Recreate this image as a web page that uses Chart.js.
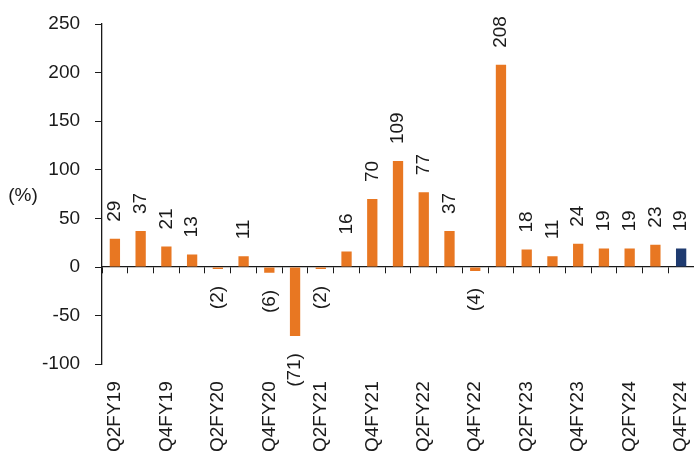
<!DOCTYPE html>
<html>
<head>
<meta charset="utf-8">
<script src="https://cdn.jsdelivr.net/npm/chart.js@4.4.1/dist/chart.umd.min.js"></script>
<style>
  html, body { margin: 0; padding: 0; background: #ffffff; }
  #wrap { width: 694px; height: 466px; position: relative; }
</style>
</head>
<body>
<div id="wrap"><canvas id="c"></canvas></div>
<script>
// Quarterly growth, % YoY
const quarters = [
  'Q2FY19', 'Q3FY19', 'Q4FY19', 'Q1FY20', 'Q2FY20', 'Q3FY20', 'Q4FY20', 'Q1FY21',
  'Q2FY21', 'Q3FY21', 'Q4FY21', 'Q1FY22', 'Q2FY22', 'Q3FY22', 'Q4FY22', 'Q1FY23',
  'Q2FY23', 'Q3FY23', 'Q4FY23', 'Q1FY24', 'Q2FY24', 'Q3FY24', 'Q4FY24'
];
const growth = [29, 37, 21, 13, -2, 11, -6, -71, -2, 16, 70, 109, 77, 37, -4, 208, 18, 11, 24, 19, 19, 23, 19];
const yTicks = [-100, -50, 0, 50, 100, 150, 200, 250];
const unitLabel = '(%)';

const ORANGE = '#E87722';
const NAVY = '#1F3B70';
const FONT = "'Liberation Sans', Arial, sans-serif";
const FONT_SIZE = 19;

// Latest quarter highlighted in navy
const barColors = growth.map((v, i) => i === growth.length - 1 ? NAVY : ORANGE);

// Rotated value labels: plain above positive bars, bracketed below negative bars
const valueLabels = {
  id: 'valueLabels',
  afterDatasetsDraw(chart) {
    const ctx = chart.ctx;
    const meta = chart.getDatasetMeta(0);
    const gap = 17;
    ctx.save();
    ctx.font = FONT_SIZE + 'px ' + FONT;
    ctx.fillStyle = '#1a1a1a';
    ctx.textBaseline = 'middle';
    meta.data.forEach((bar, i) => {
      const v = growth[i];
      const text = v < 0 ? '(' + (-v) + ')' : String(v);
      ctx.save();
      ctx.translate(bar.x, v < 0 ? bar.y + gap : bar.y - gap);
      ctx.rotate(-Math.PI / 2);
      ctx.textAlign = v < 0 ? 'right' : 'left';
      ctx.fillText(text, 0, 0);
      ctx.restore();
    });
    ctx.restore();
  }
};

// Unit caption to the left of the value axis
const unitCaption = {
  id: 'unitCaption',
  afterDraw(chart) {
    const ctx = chart.ctx;
    const y = chart.scales.y;
    ctx.save();
    ctx.font = FONT_SIZE + 'px ' + FONT;
    ctx.fillStyle = '#1a1a1a';
    ctx.textAlign = 'center';
    ctx.textBaseline = 'middle';
    ctx.fillText(unitLabel, 23, y.getPixelForValue(73));
    ctx.restore();
  }
};

new Chart(document.getElementById('c'), {
  type: 'bar',
  data: {
    labels: quarters,
    datasets: [{
      data: growth,
      backgroundColor: barColors,
      borderWidth: 0,
      barPercentage: 0.8,
      categoryPercentage: 0.5,
      xAxisID: 'x',
      yAxisID: 'y'
    }]
  },
  options: {
    responsive: true,
    maintainAspectRatio: false,
    animation: false,
    layout: { padding: { top: 24, right: 0, left: 27, bottom: -3 } },
    plugins: {
      legend: { display: false },
      tooltip: { enabled: false }
    },
    scales: {
      x: {
        type: 'category',
        position: { y: 0 },
        offset: true,
        grid: {
          offset: true,
          drawOnChartArea: false,
          drawTicks: true,
          tickLength: 6,
          color: '#1a1a1a',
          lineWidth: 1
        },
        border: { display: true, color: '#1a1a1a', width: 1.3 },
        ticks: { display: false }
      },
      x2: {
        type: 'category',
        position: 'bottom',
        offset: true,
        grid: { display: false, drawTicks: false },
        border: { display: false },
        afterFit(scale) {
          scale.paddingLeft = 0;
          scale.paddingRight = 0;
        },
        ticks: {
          autoSkip: false,
          minRotation: 90,
          maxRotation: 90,
          padding: 17,
          color: '#1a1a1a',
          font: { size: FONT_SIZE, family: FONT },
          callback: function (val, idx) {
            return idx % 2 === 0 ? this.getLabelForValue(val) : '';
          }
        }
      },
      y: {
        min: -100,
        max: 250,
        afterBuildTicks(scale) {
          scale.ticks = yTicks.map(v => ({ value: v }));
        },
        afterFit(scale) {
          scale.paddingTop = 0;
        },
        grid: {
          drawOnChartArea: false,
          drawTicks: true,
          tickLength: 7,
          color: '#1a1a1a'
        },
        border: { display: true, color: '#1a1a1a', width: 1.3 },
        ticks: {
          padding: 15,
          color: '#1a1a1a',
          font: { size: FONT_SIZE, family: FONT }
        }
      }
    }
  },
  plugins: [valueLabels, unitCaption]
});
</script>
</body>
</html>
